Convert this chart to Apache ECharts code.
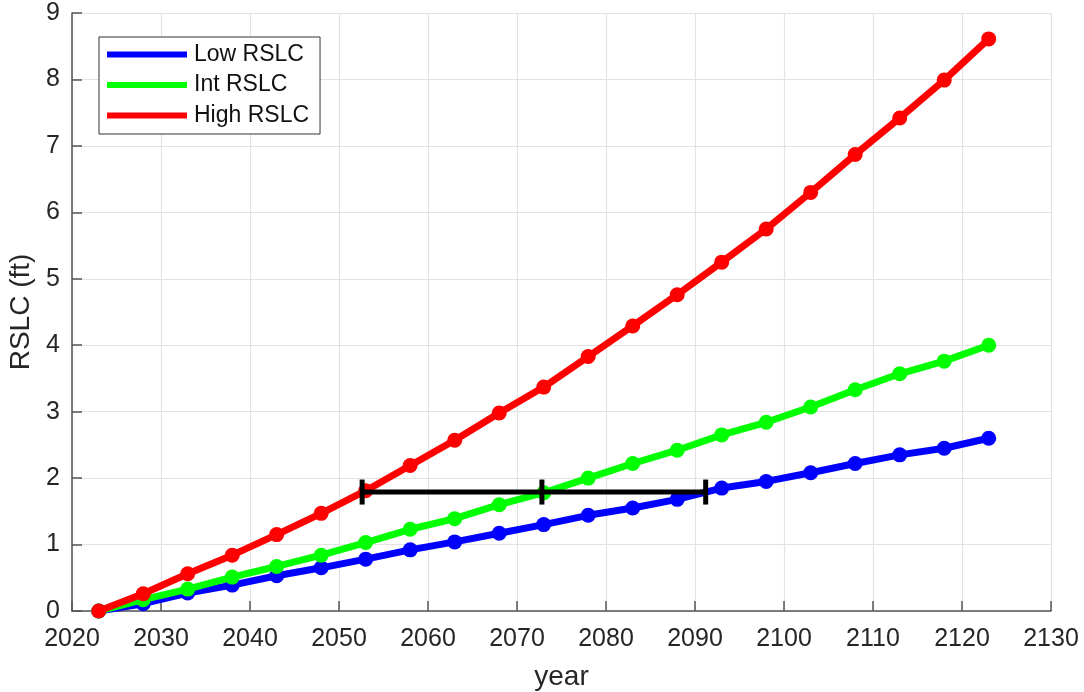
<!DOCTYPE html>
<html>
<head>
<meta charset="utf-8">
<title>RSLC</title>
<script src="https://cdn.jsdelivr.net/npm/echarts@6/dist/echarts.min.js"></script>
<style>
	html, body { margin: 0; padding: 0; background: #fff; }
	#main { width: 1084px; height: 692px; }
</style>
</head>
<body>
<div id="main"></div>
<script>
// years of the projection
var years = [2023, 2028, 2033, 2038, 2043, 2048, 2053, 2058, 2063, 2068, 2073,
	2078, 2083, 2088, 2093, 2098, 2103, 2108, 2113, 2118, 2123];
// RSLC values (ft)
var lowRslc = [0, 0.11, 0.27, 0.39, 0.53, 0.65, 0.78, 0.92, 1.04, 1.17, 1.30,
	1.44, 1.55, 1.68, 1.85, 1.95, 2.08, 2.22, 2.35, 2.45, 2.60];
var intRslc = [0, 0.17, 0.33, 0.51, 0.67, 0.84, 1.03, 1.23, 1.39, 1.60, 1.78,
	2.00, 2.22, 2.42, 2.65, 2.84, 3.07, 3.33, 3.57, 3.76, 4.00];
var highRslc = [0, 0.26, 0.56, 0.84, 1.15, 1.47, 1.81, 2.19, 2.57, 2.98, 3.37,
	3.83, 4.29, 4.76, 5.25, 5.75, 6.30, 6.87, 7.42, 7.99, 8.61];
// horizontal range bar: [high year, int year, low year, level]
var rangeBar = [[2052.6, 2072.8, 2091.2, 1.79]];

var seriesNames = ['Low RSLC', 'Int RSLC', 'High RSLC'];
var seriesColors = ['#0000ff', '#00ff00', '#ff0000'];
var fontFamily = '"Liberation Sans", Arial, Helvetica, sans-serif';

function pairs(xs, ys){
	var out = [];
	for(var i = 0; i < xs.length; i++){
		out.push([xs[i], ys[i]]);
	}
	return out;
}

function makeLine(idx, values){
	return {
		name: seriesNames[idx],
		type: 'line',
		data: pairs(years, values),
		symbol: 'circle',
		symbolSize: 15,
		showSymbol: true,
		color: seriesColors[idx],
		lineStyle: { width: 7, color: seriesColors[idx] },
		itemStyle: { color: seriesColors[idx] },
		emphasis: { disabled: true },
		animation: false,
		z: 2 + idx
	};
}

var myChart = echarts.init(document.getElementById('main'));

var axisColor = '#555555';
var gridColor = '#e3e3e3';

var option = {
	backgroundColor: '#ffffff',
	animation: false,
	grid: {
		left: 72,
		right: 33,
		top: 13,
		bottom: 81,
		containLabel: false,
		outerBoundsMode: 'none'
	},
	legend: {
		data: seriesNames,
		left: 99,
		top: 37,
		orient: 'vertical',
		icon: 'rect',
		itemWidth: 80,
		itemHeight: 6,
		itemGap: 7.5,
		padding: [6, 11, 7, 8],
		borderColor: '#333333',
		borderWidth: 1,
		backgroundColor: '#ffffff',
		textStyle: {
			fontFamily: fontFamily,
			fontSize: 23,
			lineHeight: 23,
			color: '#111111',
			padding: [0, 0, 0, 2]
		}
	},
	xAxis: {
		type: 'value',
		min: 2020,
		max: 2130,
		interval: 10,
		name: 'year',
		nameLocation: 'middle',
		nameGap: 52,
		nameTextStyle: { fontFamily: fontFamily, fontSize: 28, color: '#262626' },
		axisLine: { onZero: false, lineStyle: { color: axisColor, width: 1.5 } },
		axisTick: { inside: true, length: 10, lineStyle: { color: axisColor, width: 1.5 } },
		axisLabel: {
			fontFamily: fontFamily,
			fontSize: 25,
			color: '#262626',
			margin: 16,
			formatter: function (v){ return String(v); }
		},
		splitLine: { show: true, lineStyle: { color: gridColor, width: 1.2 } }
	},
	yAxis: {
		type: 'value',
		min: 0,
		max: 9,
		interval: 1,
		name: 'RSLC (ft)',
		nameLocation: 'middle',
		nameGap: 34,
		nameTextStyle: { fontFamily: fontFamily, fontSize: 28, color: '#262626' },
		axisLine: { show: true, lineStyle: { color: axisColor, width: 1.5 } },
		axisTick: { show: true, inside: true, length: 10, lineStyle: { color: axisColor, width: 1.5 } },
		axisLabel: {
			fontFamily: fontFamily,
			fontSize: 25,
			color: '#262626',
			margin: 12
		},
		splitLine: { show: true, lineStyle: { color: gridColor, width: 1.2 } }
	},
	series: [
		makeLine(0, lowRslc),
		makeLine(1, intRslc),
		makeLine(2, highRslc),
		{
			// black bar with end and middle ticks
			name: 'range',
			type: 'custom',
			data: rangeBar,
			z: 10,
			animation: false,
			silent: true,
			renderItem: function (params, api){
				var y = api.value(3);
				var pLeft = api.coord([api.value(0), y]);
				var pMid = api.coord([api.value(1), y]);
				var pRight = api.coord([api.value(2), y]);
				var half = 12.5;
				var style = { stroke: '#000000', lineWidth: 5, fill: null };
				var kids = [
					{ type: 'line', shape: { x1: pLeft[0], y1: pLeft[1], x2: pRight[0], y2: pRight[1] }, style: style }
				];
				[pLeft, pMid, pRight].forEach(function (p){
					kids.push({ type: 'line', shape: { x1: p[0], y1: p[1] - half, x2: p[0], y2: p[1] + half }, style: style });
				});
				return { type: 'group', children: kids };
			}
		}
	]
};

myChart.setOption(option);
</script>
</body>
</html>
